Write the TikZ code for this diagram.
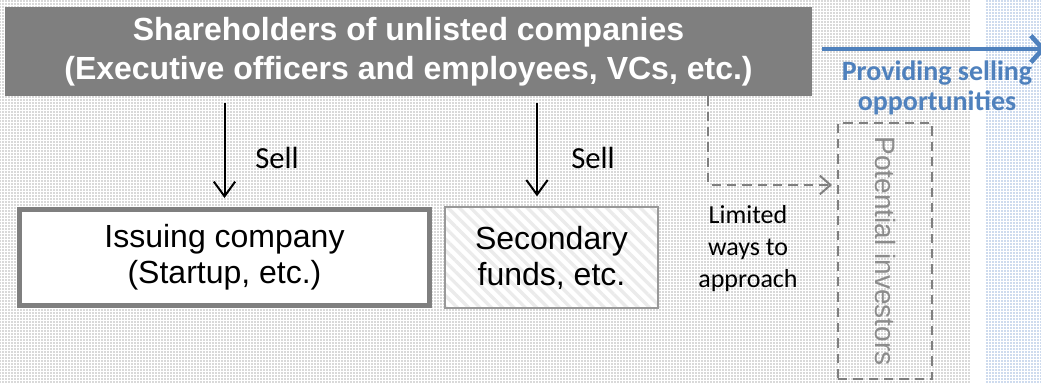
\documentclass[tikz,border=0pt]{standalone}
\usepackage{fontspec}
\setmainfont{Liberation Sans}
\newfontfamily\calib{Carlito}
\usetikzlibrary{calc,arrows.meta,patterns.meta}
\definecolor{boxgray}{HTML}{7F7F7F}
\definecolor{offblue}{HTML}{4F81BD}
\definecolor{dotgray}{HTML}{B4B4B4}
\definecolor{dotblue}{HTML}{9DB8DE}
\newcommand{\Px}{0.75pt}
\tikzset{Box/.style={
    inner sep=0pt,
    align=center,
    font=\fontsize{24}{27}\selectfont,
    }
}

\begin{document}
\begin{tikzpicture}[x=\Px, y=-\Px,
    Title/.style={Box,
    fill=boxgray,
    text=white,
    font=\bfseries\fontsize{24}{29.5}\selectfont,
    minimum width=807*\Px,
    minimum height=89*\Px},
    sellarr/.style={draw=black, line width=1.5pt,
    -{Straight Barb[length=11pt,width=16pt,line width=1.5pt]}},
    dasharr/.style={draw=boxgray, line width=1.5pt, dash pattern=on 7pt off 4.5pt,
    -{Straight Barb[length=8pt,width=14pt,line width=1.5pt]}},
    blue arr/.style={draw=offblue, line width=3.5pt,
    -{Straight Barb[length=9pt,width=20pt,line width=3.5pt]}},
    note/.style={align=center, font=\calib\fontsize{19.5}{24}\selectfont},
]
\useasboundingbox (0,0) rectangle (1041,382);
% dotted panels
\fill[white] (0,0) rectangle (1041,382);
\path[pattern={Dots[distance=2.25pt,radius=0.6pt]}, pattern color=dotgray] (0,0) rectangle (970,382);
\path[pattern={Dots[distance=2.25pt,radius=0.6pt]}, pattern color=dotblue] (985,0) rectangle (1041,382);

\node[Title] (holders) at (408.5,51.5) {Shareholders of unlisted companies\\(Executive officers and employees, VCs, etc.)};
\node[Box, draw=boxgray, line width=3.75pt, fill=white,
    minimum width=410*\Px, minimum height=96*\Px] (issuer) at (224.5,257.5) {Issuing company\\(Startup, etc.)};
\node[Box, draw=black!40, line width=1.1pt, preaction={fill=white},
    pattern={Lines[angle=-45,distance=6pt,line width=2.5pt]}, pattern color=black!8,
    minimum width=213*\Px, minimum height=101*\Px] (funds) at (551.5,257.5) {Secondary\\funds, etc.};
\node[draw=boxgray, line width=1.5pt, dash pattern=on 7pt off 4.5pt,
    minimum width=94*\Px, minimum height=256*\Px] (investors) at (885,251) {};
\node[rotate=-90, text=black!45, font=\fontsize{21}{24}\selectfont] (invlabel) at (investors.center) {Potential investors};

\node[font=\calib\fontsize{23}{26}\selectfont] (sell1) at (277,158) {Sell};
\node[font=\calib\fontsize{23}{26}\selectfont] (sell2) at (593,158) {Sell};
\node[note] (limited) at (748,249) {Limited\\ways to\\approach};
\node[align=center, text=offblue, font=\calib\bfseries\fontsize{21}{22.5}\selectfont] (provide) at (937,88) {Providing selling\\opportunities};
\coordinate (sellend) at (1046,49);

% connectors
\draw[sellarr] ($(holders.south -| issuer.north)+(0,7)$) -- ($(issuer.north)+(0,-9)$);
\draw[sellarr] ($(holders.south -| funds.north)+(-14.5,7)$) -- ($(funds.north)+(-14.5,-9)$);
\draw[dasharr] ($(holders.south east)+(-104,0)$) |- ($(investors.west)+(-5,-66)$);
\draw[blue arr] ($(holders.east)+(10,-2.5)$) -- (sellend);
\end{tikzpicture}
\end{document}
